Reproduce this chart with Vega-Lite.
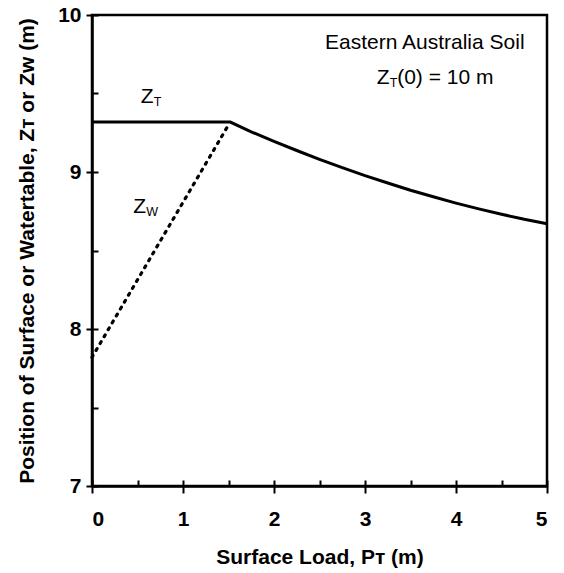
{
  "$schema": "https://vega.github.io/schema/vega-lite/v6.json",
  "autosize": {"type": "none"},
  "width": 455,
  "height": 471,
  "padding": {"left": 92, "top": 15, "right": 17, "bottom": 87},
  "background": "white",
  "config": {
    "font": "Liberation Sans",
    "view": {"stroke": "black", "strokeWidth": 2.5},
    "axis": {
      "domainColor": "black", "domainWidth": 2.5,
      "tickColor": "black", "tickWidth": 2,
      "grid": false,
      "labelFont": "Liberation Sans", "labelFontWeight": "bold", "labelFontSize": 21, "labelColor": "black",
      "titleFont": "Liberation Sans", "titleFontWeight": "bold", "titleFontSize": 21, "titleColor": "black"
    }
  },
  "datasets": {
    "curves": [
      {"load": 0, "pos": 9.318, "series": "ZT"},
      {"load": 1.52, "pos": 9.318, "series": "ZT"},
      {"load": 1.75, "pos": 9.256, "series": "ZT"},
      {"load": 2.0, "pos": 9.195, "series": "ZT"},
      {"load": 2.25, "pos": 9.137, "series": "ZT"},
      {"load": 2.5, "pos": 9.081, "series": "ZT"},
      {"load": 2.75, "pos": 9.028, "series": "ZT"},
      {"load": 3.0, "pos": 8.977, "series": "ZT"},
      {"load": 3.25, "pos": 8.93, "series": "ZT"},
      {"load": 3.5, "pos": 8.884, "series": "ZT"},
      {"load": 3.75, "pos": 8.842, "series": "ZT"},
      {"load": 4.0, "pos": 8.802, "series": "ZT"},
      {"load": 4.25, "pos": 8.765, "series": "ZT"},
      {"load": 4.5, "pos": 8.731, "series": "ZT"},
      {"load": 4.75, "pos": 8.699, "series": "ZT"},
      {"load": 5.0, "pos": 8.671, "series": "ZT"},
      {"load": 0, "pos": 7.82, "series": "ZW"},
      {"load": 1.5, "pos": 9.3, "series": "ZW"}
    ],
    "zlabels": [
      {"load": 0.535, "pos": 9.438, "sub": "T"},
      {"load": 0.454, "pos": 8.737, "sub": "W"},
      {"load": 3.128, "pos": 9.56, "sub": "T"}
    ],
    "notes": [
      {"load": 2.56, "pos": 9.782, "text": "Eastern Australia Soil"}
    ],
    "tail": [
      {"load": 3.128, "pos": 9.56, "text": "(0) = 10 m"}
    ]
  },
  "resolve": {"axis": {"x": "independent", "y": "independent"}},
  "layer": [
    {
      "data": {"name": "curves"},
      "transform": [{"filter": "datum.series == 'ZT'"}],
      "mark": {"type": "line", "color": "black", "strokeWidth": 3},
      "encoding": {
        "x": {"field": "load", "type": "quantitative",
              "scale": {"domain": [0, 5], "nice": false, "zero": false},
              "axis": {"orient": "bottom", "values": [0, 1, 2, 3, 4, 5], "tickSize": 7, "labelPadding": 15,
                       "title": "Surface Load, Pᴛ (m)", "titlePadding": 17}},
        "y": {"field": "pos", "type": "quantitative",
              "scale": {"domain": [7, 10], "nice": false, "zero": false},
              "axis": {"orient": "left", "values": [7, 8, 9, 10], "tickSize": 6, "labelPadding": 5,
                       "title": "Position of Surface or Watertable, Zᴛ or Zᴡ (m)", "titlePadding": 20}}
      }
    },
    {
      "data": {"name": "curves"},
      "transform": [{"filter": "datum.series == 'ZW'"}],
      "mark": {"type": "line", "color": "black", "strokeWidth": 3.2, "strokeDash": [2, 6], "strokeCap": "round"},
      "encoding": {
        "x": {"field": "load", "type": "quantitative",
              "axis": {"orient": "bottom", "values": [0, 0.5, 1, 1.5, 2, 2.5, 3, 3.5, 4, 4.5, 5], "tickSize": -6,
                       "labels": false, "domain": false, "title": null}},
        "y": {"field": "pos", "type": "quantitative",
              "axis": {"orient": "left", "values": [7, 7.5, 8, 8.5, 9, 9.5, 10], "tickSize": -6,
                       "labels": false, "domain": false, "title": null}}
      }
    },
    {
      "data": {"name": "zlabels"},
      "mark": {"type": "text", "text": "Z", "align": "left", "baseline": "alphabetic", "fontSize": 21, "color": "black"},
      "encoding": {
        "x": {"field": "load", "type": "quantitative", "axis": null},
        "y": {"field": "pos", "type": "quantitative", "axis": null}
      }
    },
    {
      "data": {"name": "zlabels"},
      "mark": {"type": "text", "align": "left", "baseline": "alphabetic", "fontSize": 12.5, "dx": 13, "dy": 3, "color": "black"},
      "encoding": {
        "x": {"field": "load", "type": "quantitative", "axis": null},
        "y": {"field": "pos", "type": "quantitative", "axis": null},
        "text": {"field": "sub"}
      }
    },
    {
      "data": {"name": "tail"},
      "mark": {"type": "text", "align": "left", "baseline": "alphabetic", "fontSize": 21, "dx": 20.5, "color": "black"},
      "encoding": {
        "x": {"field": "load", "type": "quantitative", "axis": null},
        "y": {"field": "pos", "type": "quantitative", "axis": null},
        "text": {"field": "text"}
      }
    },
    {
      "data": {"name": "notes"},
      "mark": {"type": "text", "align": "left", "baseline": "alphabetic", "fontSize": 21, "color": "black"},
      "encoding": {
        "x": {"field": "load", "type": "quantitative", "axis": null},
        "y": {"field": "pos", "type": "quantitative", "axis": null},
        "text": {"field": "text"}
      }
    }
  ]
}
